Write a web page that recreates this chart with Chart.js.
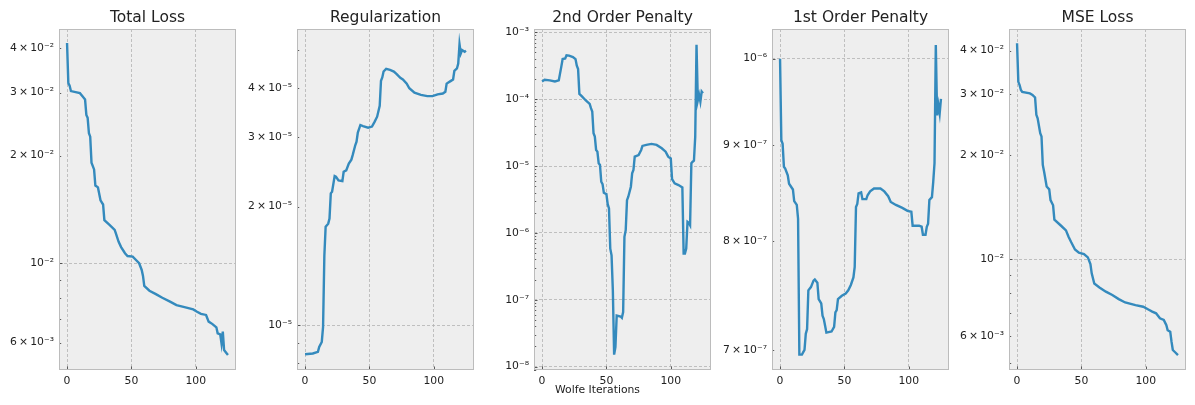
<!DOCTYPE html>
<html>
<head>
<meta charset="utf-8">
<script src="https://cdn.jsdelivr.net/npm/chart.js@4.4.1/dist/chart.umd.min.js"></script>
<style>
  html, body { margin: 0; padding: 0; background: #fff; }
  #fig { position: relative; width: 1195px; height: 405px; overflow: hidden; }
  .panel { position: absolute; top: 0; width: 237px; height: 405px; }
  #xlabel { position: absolute; left: 0; top: 384px; width: 1195px; text-align: center;
            font: 10.8px "DejaVu Sans"; line-height: 12px; color: #222; }
</style>
</head>
<body>
<div id="fig">
  <div class="panel" style="left:1px"><canvas id="c0" width="237" height="405"></canvas></div>
  <div class="panel" style="left:239px"><canvas id="c1" width="237" height="405"></canvas></div>
  <div class="panel" style="left:476px"><canvas id="c2" width="237" height="405"></canvas></div>
  <div class="panel" style="left:714px"><canvas id="c3" width="237" height="405"></canvas></div>
  <div class="panel" style="left:951px"><canvas id="c4" width="237" height="405"></canvas></div>
  <div id="xlabel">Wolfe Iterations</div>
</div>
<script>
// iterations / values (vertices of each curve)
var totalIter = [0,1,2,3,10,12,14,15,16,17,18,19,21,22,24,26,28,29,33,37,38,40,42,45,47,51,53,56,58,59,60,64,69,74,80,85,92,98,101,104,108,110,113,116,117,119,120,121,122,123,125];
var totalLoss = [4.13e-2,3.19e-2,3.14e-2,3.03e-2,2.99e-2,2.93e-2,2.87e-2,2.60e-2,2.55e-2,2.31e-2,2.26e-2,1.91e-2,1.83e-2,1.65e-2,1.63e-2,1.50e-2,1.46e-2,1.32e-2,1.28e-2,1.24e-2,1.21e-2,1.15e-2,1.11e-2,1.067e-2,1.048e-2,1.044e-2,1.026e-2,1.0e-2,9.58e-3,9.22e-3,8.64e-3,8.38e-3,8.20e-3,8.01e-3,7.81e-3,7.64e-3,7.53e-3,7.43e-3,7.32e-3,7.22e-3,7.17e-3,6.87e-3,6.76e-3,6.62e-3,6.37e-3,6.33e-3,5.97e-3,6.44e-3,5.72e-3,5.66e-3,5.54e-3];

var regIter = [0,6,10,11,13,14,15,16,18,19,20,21,23,24,26,29,30,32,34,36,37,39,40,41,43,45,49,52,54,56,58,59,60,61,63,66,69,71,74,76,79,81,85,90,95,99,103,107,109,110,113,115,116,118,119,120,121,122,124,125];
var regValue = [8.44e-6,8.48e-6,8.56e-6,8.81e-6,9.07e-6,9.9e-6,1.5e-5,1.777e-5,1.81e-5,1.865e-5,2.16e-5,2.18e-5,2.39e-5,2.38e-5,2.33e-5,2.32e-5,2.45e-5,2.47e-5,2.57e-5,2.63e-5,2.70e-5,2.86e-5,2.92e-5,3.08e-5,3.22e-5,3.20e-5,3.17e-5,3.19e-5,3.28e-5,3.38e-5,3.6e-5,4.17e-5,4.25e-5,4.40e-5,4.47e-5,4.44e-5,4.40e-5,4.34e-5,4.24e-5,4.20e-5,4.10e-5,3.99e-5,3.89e-5,3.84e-5,3.81e-5,3.81e-5,3.85e-5,3.87e-5,3.91e-5,4.10e-5,4.16e-5,4.20e-5,4.42e-5,4.48e-5,4.61e-5,5.16e-5,4.89e-5,4.99e-5,4.94e-5,4.97e-5];

var pen2Iter = [0,2,6,10,13,15,16,18,19,21,24,26,27,28,29,31,34,37,38,39,40,41,42,43,44,45,46,47,48,50,51,52,53,54,55,56,57,58,61,62,63,64,65,66,67,69,70,71,72,75,77,78,81,85,89,93,96,98,100,101,103,106,109,110,111,112,113,114,115,116,117,118,119,120,121,122,123,124,125];
var pen2Value = [1.84e-4,1.95e-4,1.91e-4,1.84e-4,1.91e-4,3.09e-4,3.98e-4,4.07e-4,4.52e-4,4.47e-4,4.27e-4,3.98e-4,3.16e-4,2.82e-4,1.20e-4,1.10e-4,9.55e-5,8.51e-5,7.33e-5,6.53e-5,3.09e-5,2.75e-5,1.74e-5,1.64e-5,1.10e-5,1.04e-5,5.82e-6,5.37e-6,3.98e-6,3.80e-6,2.69e-6,2.32e-6,5.82e-7,4.62e-7,1.38e-7,1.51e-8,1.95e-8,5.82e-8,5.62e-8,5.37e-8,6.53e-8,8.71e-7,1.10e-6,3.09e-6,3.47e-6,4.90e-6,7.76e-6,8.71e-6,1.38e-5,1.46e-5,1.74e-5,2.0e-5,2.07e-5,2.14e-5,2.07e-5,1.84e-5,1.64e-5,1.38e-5,1.30e-5,6.38e-6,5.50e-6,5.19e-6,4.79e-6,4.90e-7,4.90e-7,5.82e-7,1.46e-6,1.41e-6,1.30e-6,1.10e-5,1.16e-5,1.2e-5,2.75e-5,6.53e-4,9.5e-5,1.16e-4,9.2e-5,1.30e-4,1.23e-4];

var pen1Iter = [0,1,2,3,4,6,7,10,11,13,14,15,17,19,20,21,22,24,26,27,29,30,32,33,34,35,36,40,42,43,44,45,48,51,53,55,57,58,59,60,61,63,64,67,68,70,73,78,81,84,86,90,95,99,102,103,108,110,111,113,114,115,116,118,119,120,121,122,123,124,125];
var pen1Value = [1.0e-6,9.05e-7,9.01e-7,8.76e-7,8.74e-7,8.67e-7,8.58e-7,8.52e-7,8.40e-7,8.36e-7,8.22e-7,6.96e-7,6.96e-7,7.0e-7,7.14e-7,7.18e-7,7.53e-7,7.56e-7,7.62e-7,7.63e-7,7.60e-7,7.45e-7,7.41e-7,7.30e-7,7.27e-7,7.21e-7,7.15e-7,7.16e-7,7.20e-7,7.33e-7,7.35e-7,7.45e-7,7.48e-7,7.50e-7,7.53e-7,7.58e-7,7.65e-7,7.75e-7,8.34e-7,8.37e-7,8.48e-7,8.49e-7,8.42e-7,8.42e-7,8.46e-7,8.50e-7,8.53e-7,8.53e-7,8.50e-7,8.45e-7,8.39e-7,8.36e-7,8.33e-7,8.30e-7,8.29e-7,8.15e-7,8.15e-7,8.14e-7,8.06e-7,8.06e-7,8.14e-7,8.17e-7,8.41e-7,8.44e-7,8.6e-7,8.8e-7,1.017e-6,9.33e-7,9.45e-7,9.35e-7,9.52e-7];

var mseIter = [0,1,2,3,4,10,12,14,15,16,18,19,20,21,23,25,26,28,29,34,38,40,42,45,48,52,55,57,58,60,64,69,74,79,84,92,98,102,105,108,111,114,116,117,119,120,121,123,125];
var mseLoss = [4.2e-2,3.25e-2,3.18e-2,3.08e-2,3.04e-2,3.01e-2,2.98e-2,2.93e-2,2.61e-2,2.55e-2,2.31e-2,2.26e-2,1.87e-2,1.79e-2,1.62e-2,1.59e-2,1.48e-2,1.43e-2,1.30e-2,1.25e-2,1.21e-2,1.16e-2,1.12e-2,1.066e-2,1.043e-2,1.034e-2,1.011e-2,9.67e-3,9.09e-3,8.50e-3,8.28e-3,8.05e-3,7.87e-3,7.66e-3,7.49e-3,7.36e-3,7.28e-3,7.15e-3,7.05e-3,6.97e-3,6.74e-3,6.67e-3,6.44e-3,6.23e-3,6.17e-3,5.77e-3,5.46e-3,5.37e-3,5.28e-3];

// tick values and labels
var xTicks = [0, 50, 100];
var lossTicks = [5e-3, 6e-3, 7e-3, 8e-3, 9e-3, 1e-2, 2e-2, 3e-2, 4e-2];
var lossLabels = ['', '6\u2009×\u200910⁻³', '', '', '', '10⁻²', '2\u2009×\u200910⁻²', '3\u2009×\u200910⁻²', '4\u2009×\u200910⁻²'];
var regTicks = [8e-6, 9e-6, 1e-5, 2e-5, 3e-5, 4e-5, 5e-5];
var regLabels = ['', '', '10⁻⁵', '2\u2009×\u200910⁻⁵', '3\u2009×\u200910⁻⁵', '4\u2009×\u200910⁻⁵', ''];
var pen1Ticks = [7e-7, 8e-7, 9e-7, 1e-6];
var pen1Labels = ['7\u2009×\u200910⁻⁷', '8\u2009×\u200910⁻⁷', '9\u2009×\u200910⁻⁷', '10⁻⁶'];
var pen2Ticks = [];
var pen2Labels = [];
var supers = ['⁻⁹', '⁻⁸', '⁻⁷', '⁻⁶', '⁻⁵', '⁻⁴', '⁻³'];
for (var e = -9; e <= -3; e++) {
    for (var m = 1; m <= 9; m++) {
        var v = m * Math.pow(10, e);
        if (v < 8.9e-9 || v > 1.11e-3) continue;
        pen2Ticks.push(v);
        pen2Labels.push(m === 1 ? '10' + supers[e + 9] : '');
    }
}

function isDecade(v) {
    var l = Math.log10(v);
    return Math.abs(l - Math.round(l)) < 1e-6;
}

var frame = {
    id: 'frame',
    beforeDraw: function(chart) {
        var a = chart.chartArea, ctx = chart.ctx;
        ctx.save();
        ctx.fillStyle = '#eeeeee';
        ctx.fillRect(a.left, a.top, a.right - a.left, a.bottom - a.top);
        ctx.restore();
    },
    afterDraw: function(chart, args, opts) {
        var a = chart.chartArea, ctx = chart.ctx;
        var xs = chart.scales.x, ys = chart.scales.y;
        ctx.save();
        ctx.strokeStyle = '#333';
        ctx.lineWidth = 0.8;
        xs.ticks.forEach(function(t) {
            var p = Math.round(xs.getPixelForValue(t.value)) + 0.5;
            ctx.beginPath(); ctx.moveTo(p, a.bottom); ctx.lineTo(p, a.bottom - 3.5); ctx.stroke();
        });
        ys.ticks.forEach(function(t) {
            var p = Math.round(ys.getPixelForValue(t.value)) + 0.5;
            var len = isDecade(t.value) ? 3.5 : 2.2;
            ctx.beginPath(); ctx.moveTo(a.left, p); ctx.lineTo(a.left + len, p); ctx.stroke();
        });
        ctx.strokeStyle = '#bcbcbc';
        ctx.lineWidth = 1;
        ctx.strokeRect(a.left + 0.5, a.top + 0.5, a.right - a.left - 1, a.bottom - a.top - 1);
        ctx.fillStyle = '#222';
        ctx.font = '15.5px "DejaVu Sans"';
        ctx.textAlign = 'center';
        ctx.textBaseline = 'alphabetic';
        ctx.fillText(opts.title, (a.left + a.right) / 2, 22);
        ctx.restore();
    }
};

function makePanel(id, title, iters, values, yMin, yMax, yTicks, yLabels) {
    var points = iters.map(function(x, i) { return {x: x, y: values[i]}; });
    var shown = [], shownLabels = [];
    yTicks.forEach(function(v, i) {
        if (v >= yMin && v <= yMax) { shown.push(v); shownLabels.push(yLabels[i]); }
    });
    return new Chart(document.getElementById(id), {
        type: 'line',
        data: {
            datasets: [{
                data: points,
                borderColor: '#348ABD',
                borderWidth: 2.4,
                pointRadius: 0,
                tension: 0,
                fill: false
            }]
        },
        options: {
            responsive: false,
            animation: false,
            layout: { padding: { top: 29, right: 2, left: 0, bottom: 0 } },
            plugins: {
                legend: { display: false },
                tooltip: { enabled: false },
                frame: { title: title }
            },
            scales: {
                x: {
                    type: 'linear',
                    min: -6.25,
                    max: 131.25,
                    bounds: 'data',
                    afterBuildTicks: function(s) { s.ticks = xTicks.map(function(v) { return {value: v}; }); },
                    afterFit: function(s) { s.height = 35; },
                    grid: { color: '#b2b2b2', lineWidth: 0.8, drawTicks: false },
                    border: { display: false, dash: [3, 2] },
                    ticks: {
                        autoSkip: false, maxRotation: 0, padding: 5, color: '#222',
                        font: { family: 'DejaVu Sans', size: 10.8 },
                        callback: function(v) { return String(v); }
                    }
                },
                y: {
                    type: 'logarithmic',
                    min: yMin,
                    max: yMax,
                    bounds: 'data',
                    afterBuildTicks: function(s) { s.ticks = shown.map(function(v) { return {value: v}; }); },
                    afterFit: function(s) { s.width = 58; },
                    grid: {
                        color: function(c) { return c.tick && isDecade(c.tick.value) ? '#b2b2b2' : 'rgba(0,0,0,0)'; },
                        lineWidth: 0.8, drawTicks: false
                    },
                    border: { display: false, dash: [3, 2] },
                    ticks: {
                        autoSkip: false, padding: 5, color: '#222',
                        font: { family: 'DejaVu Sans', size: 10.8 },
                        callback: function(v, i) { return shownLabels[i]; }
                    }
                }
            }
        },
        plugins: [frame]
    });
}

makePanel('c0', 'Total Loss', totalIter, totalLoss, 5.03e-3, 4.52e-2, lossTicks, lossLabels);
makePanel('c1', 'Regularization', regIter, regValue, 7.70e-6, 5.64e-5, regTicks, regLabels);
makePanel('c2', '2nd Order Penalty', pen2Iter, pen2Value, 8.9e-9, 1.12e-3, pen2Ticks, pen2Labels);
makePanel('c3', '1st Order Penalty', pen1Iter, pen1Value, 6.83e-7, 1.037e-6, pen1Ticks, pen1Labels);
makePanel('c4', 'MSE Loss', mseIter, mseLoss, 4.78e-3, 4.62e-2, lossTicks, lossLabels);
</script>
</body>
</html>
